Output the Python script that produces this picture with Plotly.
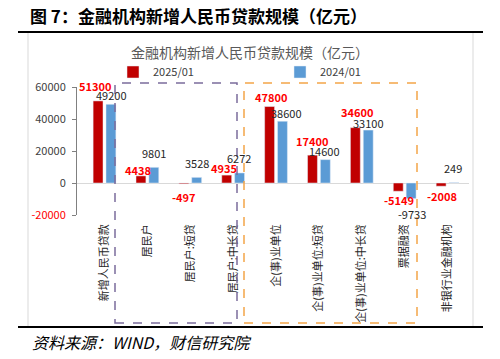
import plotly.graph_objects as go

# ---- data ----
categories = ["新增人民币贷款", "居民户", "居民户:短贷", "居民户:中长贷", "企(事)业单位",
              "企(事)业单位:短贷", "企(事)业单位:中长贷", "票据融资", "非银行业金融机构"]
v2025 = [51300, 4438, -497, 4935, 47800, 17400, 34600, -5149, -2008]
v2024 = [49200, 9801, 3528, 6272, 38600, 14600, 33100, -9733, 249]
series_names = ["2025/01", "2024/01"]
y_ticks = [-20000, 0, 20000, 40000, 60000]

# ---- style ----
RED = "#C00000"
BLUE = "#5B9BD5"
FONT = "Noto Sans CJK SC"
W, H = 500, 359
L, R, T, B = 77, 469, 87, 215   # plot area in px

def px(x):
    return (x - L) / (R - L)

def py(y):
    return (B - y) / (B - T)

# label nudges in px (dx, dy from bar end)
red_dx = [-3, -3, 0, -3, 1, 0, 2, 1, 1]
red_dy = [15, 6, -13, 7, 10, 14, 16, -9, -10]
blue_dx = [0, 0, 0, -1, 4, -1, 0, 1, -1]
blue_dy = [9, 14, 14, 15, 8, 9, 7, -15, 15]
BAR_OFF = 6.5

fig = go.Figure()
fig.add_trace(go.Bar(x=categories, y=v2025, name=series_names[0], marker_color=RED,
                     legend="legend2", showlegend=True))
fig.add_trace(go.Bar(x=categories, y=v2024, name=series_names[1], marker_color=BLUE,
                     legend="legend3", showlegend=True))

annotations = []
for i, c in enumerate(categories):
    annotations.append(dict(x=c, y=v2025[i], xref="x", yref="y", text=f"<b>{v2025[i]}</b>",
                            showarrow=False, xshift=-BAR_OFF + red_dx[i], yshift=red_dy[i],
                            xanchor="center", yanchor="middle",
                            font=dict(family=FONT, size=11, color="#FF0000")))
    annotations.append(dict(x=c, y=v2024[i], xref="x", yref="y", text=f"{v2024[i]}",
                            showarrow=False, xshift=BAR_OFF + blue_dx[i], yshift=blue_dy[i],
                            xanchor="center", yanchor="middle",
                            font=dict(family=FONT, size=11, color="#262626")))

annotations += [
    dict(x=px(28), y=py(15), xref="paper", yref="paper", xanchor="left", yanchor="middle",
         text="<b>图 7：金融机构新增人民币贷款规模（亿元）</b>", showarrow=False,
         font=dict(family=FONT, size=17, color="#000000")),
    dict(x=px(250), y=py(52), xref="paper", yref="paper", xanchor="center", yanchor="middle",
         text="金融机构新增人民币贷款规模（亿元）", showarrow=False,
         font=dict(family=FONT, size=14, color="#595959")),
    dict(x=px(30), y=py(342), xref="paper", yref="paper", xanchor="left", yanchor="middle",
         text="<i>资料来源：WIND，财信研究院</i>", showarrow=False,
         font=dict(family=FONT, size=16, color="#000000")),
]

shapes = [
    # outer light frame
    dict(type="rect", xref="paper", yref="paper", x0=px(28), x1=px(473), y0=py(327), y1=py(32),
         line=dict(color="#D9D9D9", width=1), layer="below"),
    # black rules
    dict(type="line", xref="paper", yref="paper", x0=px(18), x1=px(483), y0=py(32), y1=py(32),
         line=dict(color="#000000", width=2)),
    dict(type="line", xref="paper", yref="paper", x0=px(18), x1=px(483), y0=py(327), y1=py(327),
         line=dict(color="#000000", width=2)),
    # dashed groups
    dict(type="rect", xref="paper", yref="paper", x0=px(115), x1=px(237), y0=py(323), y1=py(83),
         line=dict(color="#7B6C9C", width=1.5, dash="dash")),
    dict(type="rect", xref="paper", yref="paper", x0=px(244), x1=px(417), y0=py(323), y1=py(83),
         line=dict(color="#F4A548", width=1.5, dash="dash")),
]

tick_text = ['<span style="color:#FF0000">-20000</span>', "0", "20000", "40000", "60000"]

legend_common = dict(orientation="h", xref="paper", yref="paper",
                     xanchor="left", yanchor="middle", bgcolor="rgba(0,0,0,0)",
                     font=dict(family=FONT, size=11, color="#404040"))

fig.update_layout(
    width=W, height=H,
    margin=dict(l=L, r=W - R, t=T, b=H - B, autoexpand=False),
    paper_bgcolor="white", plot_bgcolor="white",
    showlegend=True,
    barmode="group", bargap=0.40, bargroupgap=0.23,
    font=dict(family=FONT, size=11, color="#404040"),
    xaxis=dict(showline=False, ticks="", tickangle=-90, showgrid=False,
               tickfont=dict(family=FONT, size=11, color="#262626"),
               ticklabelstandoff=6, automargin=False),
    yaxis=dict(range=[-20000, 60000], tickvals=y_ticks, ticktext=tick_text,
               showgrid=False, showline=True, linecolor="#808080", linewidth=1,
               ticks="outside", ticklen=4, tickcolor="#808080",
               zeroline=True, zerolinecolor="#D9D9D9", zerolinewidth=1,
               tickfont=dict(family=FONT, size=11, color="#404040"),
               ticklabelstandoff=4, automargin=False),
    legend2=dict(x=px(113), y=py(72), **legend_common),
    legend3=dict(x=px(280), y=py(72), **legend_common),
    annotations=annotations,
    shapes=shapes,
)

fig.write_html("out.html", config={"displayModeBar": False},
               post_script="document.body.style.margin='0';")
